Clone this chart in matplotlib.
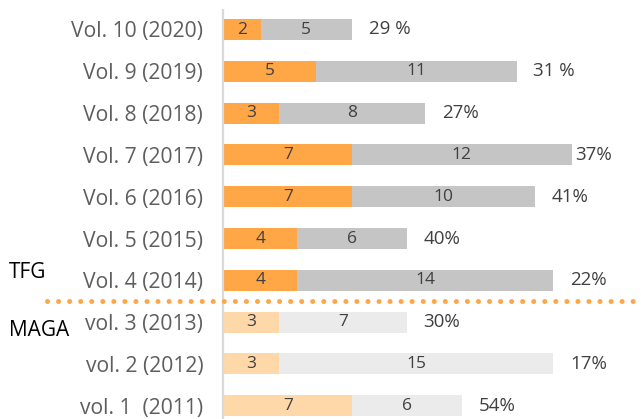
import matplotlib
matplotlib.use("Agg")
import matplotlib.pyplot as plt
from matplotlib.lines import Line2D

# Volumes, top to bottom
volumes = ["Vol. 10 (2020)", "Vol. 9 (2019)", "Vol. 8 (2018)", "Vol. 7 (2017)",
           "Vol. 6 (2016)", "Vol. 5 (2015)", "Vol. 4 (2014)",
           "vol. 3 (2013)", "vol. 2 (2012)", "vol. 1  (2011)"]
first_part = [2, 5, 3, 7, 7, 4, 4, 3, 3, 7]
second_part = [5, 11, 8, 12, 10, 6, 14, 7, 15, 6]
share_labels = ["29 %", "31 %", "27%", "37%", "41%", "40%", "22%", "30%", "17%", "54%"]
group_labels = ["TFG", "MAGA"]
tfg_rows = 7  # first seven rows belong to TFG

ORANGE, GREY = "#FFA646", "#C5C5C5"
ORANGE_LIGHT, GREY_LIGHT = "#FFD8A9", "#EBEBEB"
TEXT = "#5E5E5E"
VALUE_TEXT = "#404040"

plt.rcParams["font.family"] = ["Open Sans", "DejaVu Sans"]

fig = plt.figure(figsize=(6.41, 4.19), dpi=100)
ax = fig.add_axes([224 / 641, 0, 1 - 224 / 641, 1])
ax.set_xlim(0, 417 / 18.3)
ax.set_ylim((419 - 29.5) / 41.8, -29.5 / 41.8)

rows = list(range(len(volumes)))
c1 = [ORANGE if i < tfg_rows else ORANGE_LIGHT for i in rows]
c2 = [GREY if i < tfg_rows else GREY_LIGHT for i in rows]
ax.barh(rows, first_part, height=0.5, color=c1, edgecolor="none")
ax.barh(rows, second_part, left=first_part, height=0.5, color=c2, edgecolor="none")

for i in rows:
    a, b = first_part[i], second_part[i]
    ax.text(a / 2, i, str(a), ha="center", va="center", fontsize=12.5, color=VALUE_TEXT)
    ax.text(a + b / 2, i, str(b), ha="center", va="center", fontsize=12.5, color=VALUE_TEXT)
    off = 0.2 if share_labels[i] == "37%" else 0.9
    ax.text(a + b + off, i, share_labels[i], ha="left", va="center",
            fontsize=13.5, color=VALUE_TEXT)

ax.set_yticks(rows)
ax.set_yticklabels(volumes, fontsize=15.2, color=TEXT)
ax.tick_params(axis="y", length=0, pad=15)
ax.set_xticks([])
for s in ax.spines.values():
    s.set_visible(False)

# vertical baseline
ax.plot([-0.05, -0.05], [-0.49, 9.4], color="#D9D9D9", lw=1.6, clip_on=False,
        solid_capstyle="butt")

# dotted separator between the two groups
sep_y = 1 - (29.5 + 6.5 * 41.8) / 419
fig.add_artist(Line2D([47 / 641, 1.0], [sep_y, sep_y], transform=fig.transFigure,
                      color=ORANGE, lw=3.6, linestyle=(0, (0.01, 2.2)),
                      dash_capstyle="round"))

fig.text(9 / 641, 1 - 272 / 419, group_labels[0], ha="left", va="center",
         fontsize=15, color="black")
fig.text(9 / 641, 1 - 330 / 419, group_labels[1], ha="left", va="center",
         fontsize=15, color="black")

fig.savefig("out.png", dpi=100)
